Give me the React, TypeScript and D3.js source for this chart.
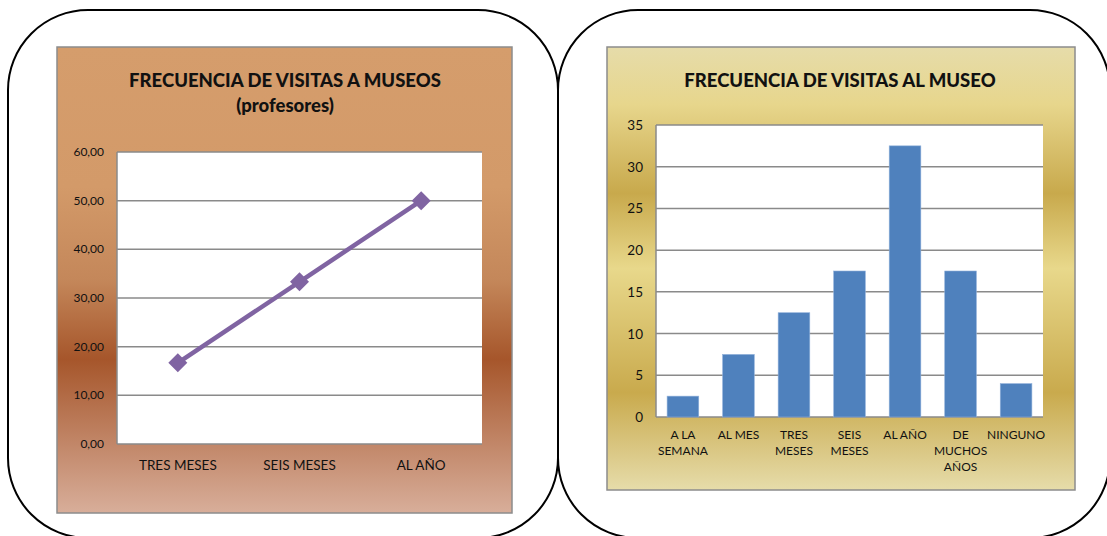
import React, { useEffect, useRef } from 'react';
import * as d3 from 'd3';

// left chart: teachers
const lineCategories = ['TRES MESES', 'SEIS MESES', 'AL AÑO'];
const lineValues = [16.67, 33.33, 50];
const lineTicks = [0, 10, 20, 30, 40, 50, 60];

// right chart
const barCategories = [
  ['A LA', 'SEMANA'],
  ['AL MES'],
  ['TRES', 'MESES'],
  ['SEIS', 'MESES'],
  ['AL AÑO'],
  ['DE', 'MUCHOS', 'AÑOS'],
  ['NINGUNO'],
];
const barValues = [2.5, 7.5, 12.5, 17.5, 32.5, 17.5, 4];
const barTicks = [0, 5, 10, 15, 20, 25, 30, 35];

const FONT = 'Lato, "Open Sans", sans-serif';

const App: React.FC = () => {
  const svgRef = useRef<SVGSVGElement>(null);

  useEffect(() => {
    if (!svgRef.current) return;
    const svg = d3.select(svgRef.current);
    svg.selectAll('*').remove();

    const defs = svg.append('defs');
    const brown = defs.append('linearGradient').attr('id', 'brownGrad')
      .attr('x1', 0).attr('y1', 0).attr('x2', 0).attr('y2', 1);
    [[0, '#d59d6c'], [0.3, '#d39a69'], [0.5, '#c4875a'], [0.67, '#a6562b'], [1, '#d8ae9a']]
      .forEach(([o, c]) => brown.append('stop').attr('offset', o as number).attr('stop-color', c as string));
    const gold = defs.append('linearGradient').attr('id', 'goldGrad')
      .attr('x1', 0).attr('y1', 0).attr('x2', 0).attr('y2', 1);
    [[0, '#e6dcaa'], [0.13, '#e7d68c'], [0.33, '#c8a94c'], [0.5, '#e8d88b'], [0.78, '#c9aa4d'], [1, '#e6dcaa']]
      .forEach(([o, c]) => gold.append('stop').attr('offset', o as number).attr('stop-color', c as string));

    // rounded frames
    const frame = (x: number, w: number) =>
      svg.append('rect').attr('x', x).attr('y', 10).attr('width', w).attr('height', 528)
        .attr('rx', 80).attr('ry', 80).attr('fill', 'none').attr('stroke', '#000').attr('stroke-width', 2);
    frame(8, 550);
    frame(558, 552);

    // ---------- left: line chart ----------
    svg.append('rect').attr('x', 57).attr('y', 47).attr('width', 455).attr('height', 466)
      .attr('fill', 'url(#brownGrad)').attr('stroke', '#8c8c8c').attr('stroke-width', 1.5);

    const lt = svg.append('text').attr('x', 285).attr('text-anchor', 'middle')
      .attr('font-family', FONT).attr('font-weight', 900).attr('font-size', 18.5).attr('fill', '#111');
    lt.append('tspan').attr('x', 285).attr('y', 87).text('FRECUENCIA DE VISITAS A MUSEOS');
    lt.append('tspan').attr('x', 285).attr('y', 112).text('(profesores)');

    const lx = d3.scalePoint<string>().domain(lineCategories).range([117, 482]).padding(0.5);
    const ly = d3.scaleLinear().domain([0, 60]).range([444, 152]);

    const lg = svg.append('g');
    lg.append('rect').attr('x', 117).attr('y', 152).attr('width', 365).attr('height', 292).attr('fill', '#fff');
    lg.selectAll('line.grid').data(lineTicks).enter().append('line')
      .attr('x1', 117).attr('x2', 482).attr('y1', d => ly(d)).attr('y2', d => ly(d))
      .attr('stroke', '#8a8a8a').attr('stroke-width', 1.5);
    lg.append('line').attr('x1', 117).attr('x2', 117).attr('y1', 152).attr('y2', 444)
      .attr('stroke', '#8a8a8a').attr('stroke-width', 1.5);
    lg.selectAll('text.yt').data(lineTicks).enter().append('text')
      .attr('x', 104).attr('y', d => ly(d) + 4).attr('text-anchor', 'end')
      .attr('font-family', FONT).attr('font-size', 12).attr('fill', '#111')
      .text(d => d3.format('.2f')(d).replace('.', ','));
    lg.selectAll('text.xt').data(lineCategories).enter().append('text')
      .attr('x', d => lx(d) || 0).attr('y', 470).attr('text-anchor', 'middle')
      .attr('font-family', FONT).attr('font-size', 13.5).attr('fill', '#111').text(d => d);

    const pts = lineCategories.map((c, i) => [lx(c) || 0, ly(lineValues[i])] as [number, number]);
    lg.append('path').attr('d', d3.line()(pts)).attr('fill', 'none')
      .attr('stroke', '#8064a2').attr('stroke-width', 4.5);
    lg.selectAll('path.mk').data(pts).enter().append('path')
      .attr('d', d3.symbol().type(d3.symbolDiamond2).size(230)())
      .attr('transform', d => `translate(${d[0]},${d[1]})`).attr('fill', '#8064a2');

    // ---------- right: bar chart ----------
    svg.append('rect').attr('x', 607).attr('y', 47).attr('width', 468).attr('height', 443)
      .attr('fill', 'url(#goldGrad)').attr('stroke', '#8c8c8c').attr('stroke-width', 1.5);
    svg.append('text').attr('x', 840).attr('y', 87).attr('text-anchor', 'middle')
      .attr('font-family', FONT).attr('font-weight', 900).attr('font-size', 18.5).attr('fill', '#111')
      .text('FRECUENCIA DE VISITAS AL MUSEO');

    const keys = barCategories.map(c => c.join(' '));
    const bx = d3.scaleBand().domain(keys).range([656, 1043]).paddingInner(0.43).paddingOuter(0.2);
    const by = d3.scaleLinear().domain([0, 35]).range([417, 125]);

    const rg = svg.append('g');
    rg.append('rect').attr('x', 656).attr('y', 125).attr('width', 387).attr('height', 292).attr('fill', '#fff');
    rg.selectAll('line.grid').data(barTicks).enter().append('line')
      .attr('x1', 656).attr('x2', 1043).attr('y1', d => by(d)).attr('y2', d => by(d))
      .attr('stroke', '#8a8a8a').attr('stroke-width', 1.5);
    rg.append('line').attr('x1', 656).attr('x2', 656).attr('y1', 125).attr('y2', 417)
      .attr('stroke', '#8a8a8a').attr('stroke-width', 1.5);
    rg.selectAll('rect.bar').data(barValues).enter().append('rect')
      .attr('x', (_, i) => bx(keys[i]) || 0).attr('width', bx.bandwidth())
      .attr('y', d => by(d)).attr('height', d => by(0) - by(d))
      .attr('fill', '#4f81bd').attr('stroke', '#8fb0da').attr('stroke-width', 0.6);
    rg.selectAll('text.yt').data(barTicks).enter().append('text')
      .attr('x', 643).attr('y', d => by(d) + 5).attr('text-anchor', 'end')
      .attr('font-family', FONT).attr('font-size', 13.5).attr('fill', '#111').text(d => d);
    const xl = rg.selectAll('text.xt').data(barCategories).enter().append('text')
      .attr('text-anchor', 'middle').attr('font-family', FONT).attr('font-size', 12).attr('fill', '#111');
    xl.each(function (lines, i) {
      const cx = (bx(keys[i]) || 0) + bx.bandwidth() / 2;
      lines.forEach((l, j) => {
        d3.select(this).append('tspan').attr('x', cx).attr('y', 439 + j * 16).text(l);
      });
    });
  }, []);

  return (
    <div style={{ position: 'absolute', left: 0, top: 0, width: 1107, height: 536, background: '#fff', overflow: 'hidden' }}>
      <svg ref={svgRef} width={1107} height={536}></svg>
    </div>
  );
};

export default App;
